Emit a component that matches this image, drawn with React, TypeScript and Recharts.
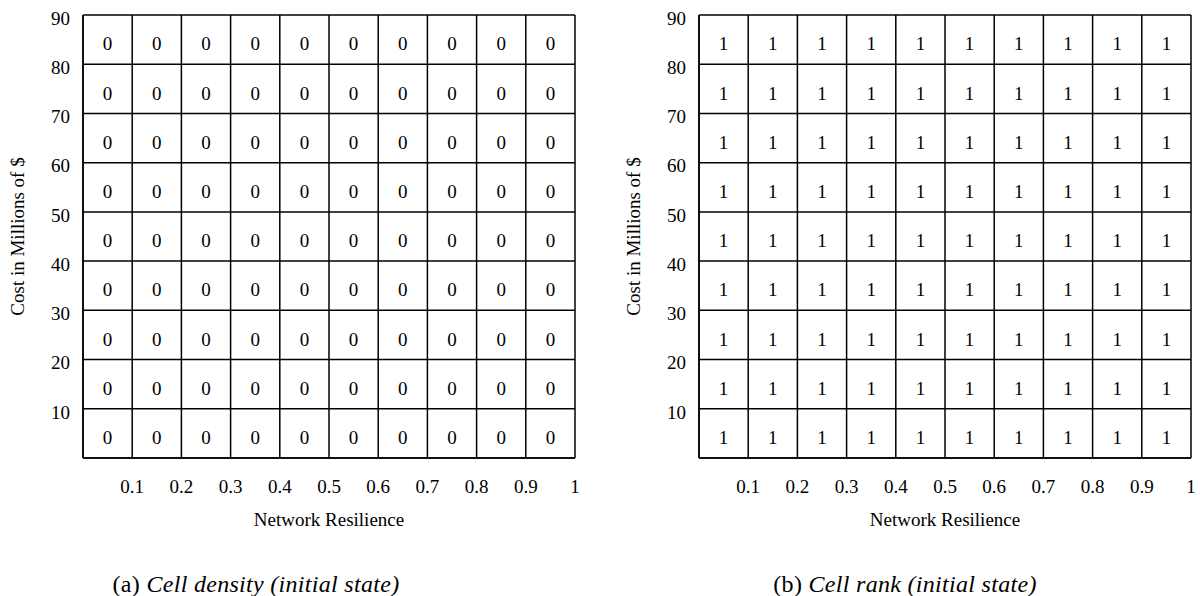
import { ScatterChart, Scatter, XAxis, YAxis, CartesianGrid } from 'recharts'

// bin centres for each cell of the grid
const resilienceBins = [0.05, 0.15, 0.25, 0.35, 0.45, 0.55, 0.65, 0.75, 0.85, 0.95]
const costBins = [85, 75, 65, 55, 45, 35, 25, 15, 5]

const resilienceTicks = [0.1, 0.2, 0.3, 0.4, 0.5, 0.6, 0.7, 0.8, 0.9, 1]
const costTicks = [10, 20, 30, 40, 50, 60, 70, 80, 90]

// rows listed top (85) to bottom (5)
const densityRows = [
  [0, 0, 0, 0, 0, 0, 0, 0, 0, 0],
  [0, 0, 0, 0, 0, 0, 0, 0, 0, 0],
  [0, 0, 0, 0, 0, 0, 0, 0, 0, 0],
  [0, 0, 0, 0, 0, 0, 0, 0, 0, 0],
  [0, 0, 0, 0, 0, 0, 0, 0, 0, 0],
  [0, 0, 0, 0, 0, 0, 0, 0, 0, 0],
  [0, 0, 0, 0, 0, 0, 0, 0, 0, 0],
  [0, 0, 0, 0, 0, 0, 0, 0, 0, 0],
  [0, 0, 0, 0, 0, 0, 0, 0, 0, 0],
]

const rankRows = [
  [1, 1, 1, 1, 1, 1, 1, 1, 1, 1],
  [1, 1, 1, 1, 1, 1, 1, 1, 1, 1],
  [1, 1, 1, 1, 1, 1, 1, 1, 1, 1],
  [1, 1, 1, 1, 1, 1, 1, 1, 1, 1],
  [1, 1, 1, 1, 1, 1, 1, 1, 1, 1],
  [1, 1, 1, 1, 1, 1, 1, 1, 1, 1],
  [1, 1, 1, 1, 1, 1, 1, 1, 1, 1],
  [1, 1, 1, 1, 1, 1, 1, 1, 1, 1],
  [1, 1, 1, 1, 1, 1, 1, 1, 1, 1],
]

const FONT = '"Liberation Serif", "Times New Roman", serif'
const FONT_SIZE = 19
const LINE = { stroke: '#000', strokeWidth: 1.5 }

function toCells(rows: number[][]) {
  return rows.flatMap((row, r) => row.map((v, c) => ({ x: resilienceBins[c], y: costBins[r], v })))
}

function XTick(props: any) {
  const { x, y, payload } = props
  return (
    <text x={x} y={y} dy="0.355em" textAnchor="middle" fontFamily={FONT} fontSize={FONT_SIZE} fill="#000">
      {payload.value}
    </text>
  )
}

function YTick(props: any) {
  const { x, y, payload } = props
  return (
    <text x={x} y={y + 3} dy="0.355em" textAnchor="end" fontFamily={FONT} fontSize={FONT_SIZE} fill="#000">
      {payload.value}
    </text>
  )
}

function CellLabel(props: any) {
  const { cx, cy, payload } = props
  return (
    <text x={cx} y={cy + 4} dy="0.355em" textAnchor="middle" fontFamily={FONT} fontSize={FONT_SIZE} fill="#000">
      {payload.v}
    </text>
  )
}

function GridPanel({ rows, width }: { rows: number[][]; width: number }) {
  const cells = toCells(rows)
  return (
    <ScatterChart width={width} height={538} margin={{ top: 15, right: width - 575, left: 3, bottom: 0 }}>
      <CartesianGrid {...LINE} />
      <XAxis
        type="number"
        dataKey="x"
        domain={[0, 1]}
        ticks={resilienceTicks}
        interval={0}
        height={80}
        tickLine={false}
        tickSize={0}
        tickMargin={28}
        axisLine={LINE}
        tick={<XTick />}
        label={{ value: 'Network Resilience', position: 'insideTop', offset: 55, fill: '#000', fontFamily: FONT, fontSize: FONT_SIZE }}
      />
      <YAxis
        type="number"
        dataKey="y"
        domain={[0, 90]}
        ticks={costTicks}
        interval={0}
        width={80}
        tickLine={false}
        tickSize={0}
        tickMargin={13}
        axisLine={LINE}
        tick={<YTick />}
        label={{
          value: 'Cost in Millions of $',
          angle: -90,
          position: 'insideLeft',
          offset: 14,
          fill: '#000',
          fontFamily: FONT,
          fontSize: FONT_SIZE,
          style: { textAnchor: 'middle' },
        }}
      />
      <Scatter data={cells} shape={<CellLabel />} isAnimationActive={false} />
    </ScatterChart>
  )
}

function Caption({ tag, text, center }: { tag: string; text: string; center: number }) {
  return (
    <div
      style={{
        position: 'absolute',
        left: center - 200,
        top: 570,
        width: 400,
        textAlign: 'center',
        fontFamily: FONT,
        fontSize: 24,
        lineHeight: '28px',
        color: '#000',
        whiteSpace: 'nowrap',
        letterSpacing: '0.3px',
      }}
    >
      {tag} <i>{text}</i>
    </div>
  )
}

export default function App() {
  return (
    <div style={{ position: 'absolute', left: 0, top: 0, width: 1200, height: 596, background: '#fff', overflow: 'hidden' }}>
      <div style={{ position: 'absolute', left: 0, top: 0 }}>
        <GridPanel rows={densityRows} width={600} />
      </div>
      <div style={{ position: 'absolute', left: 616, top: 0 }}>
        <GridPanel rows={rankRows} width={584} />
      </div>
      <Caption tag="(a)" text="Cell density (initial state)" center={256} />
      <Caption tag="(b)" text="Cell rank (initial state)" center={905} />
    </div>
  )
}
